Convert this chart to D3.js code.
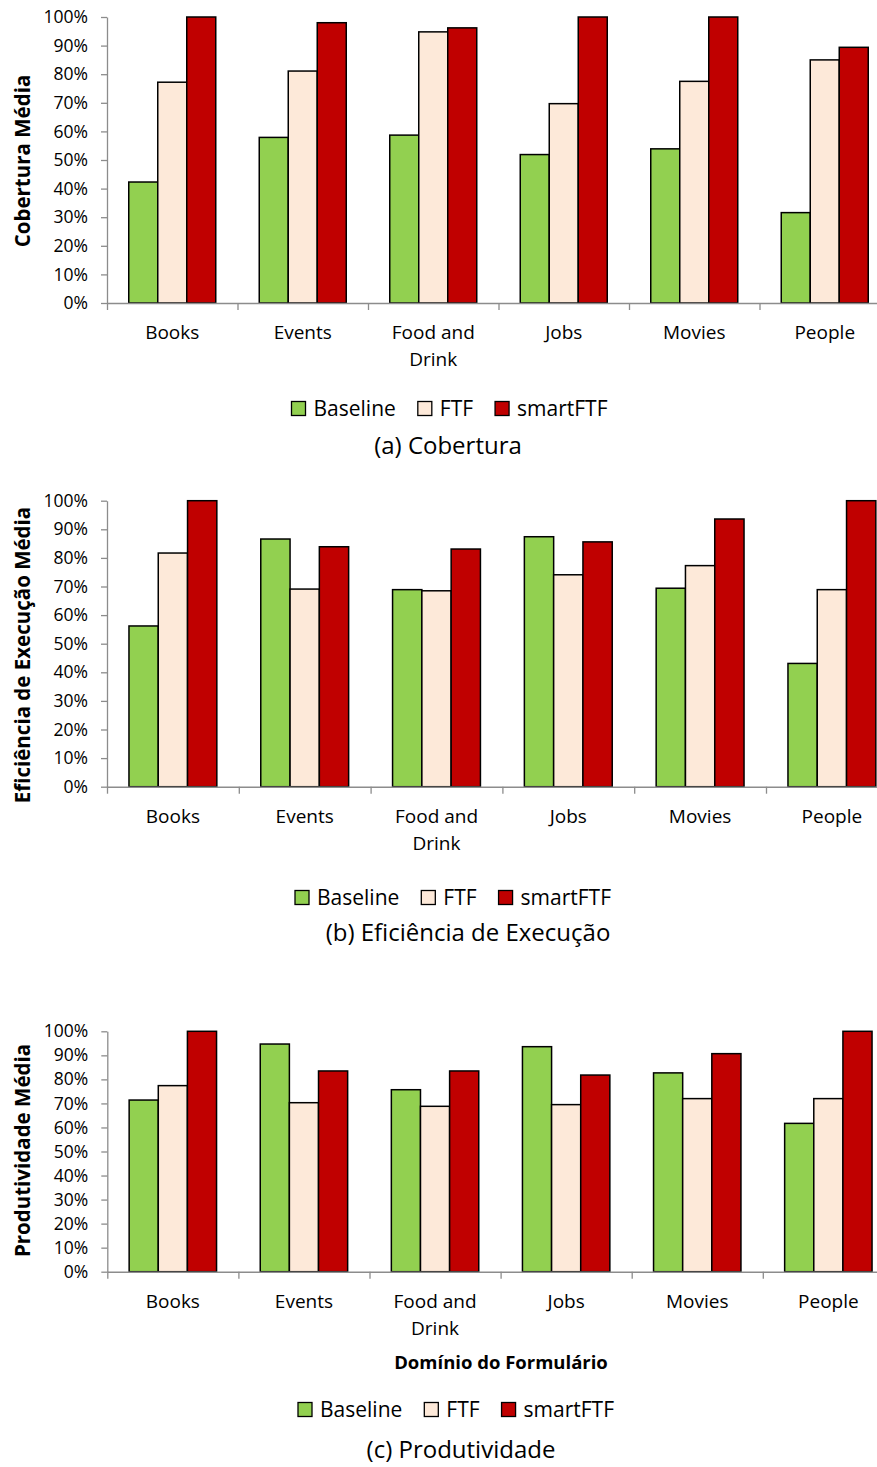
<!DOCTYPE html>
<html>
<head>
<meta charset="utf-8">
<script src="https://cdn.jsdelivr.net/npm/d3@7"></script>
<style>
  html, body { margin: 0; padding: 0; background: #fff; }
  svg { display: block; }
  text { font-family: "Open Sans", "Noto Sans", sans-serif; fill: #000; }
</style>
</head>
<body>
<svg id="chart" width="877" height="1467"></svg>
<script>
// ---------- DATA ----------
const categories = ["Books", "Events", "Food and Drink", "Jobs", "Movies", "People"];
const seriesNames = ["Baseline", "FTF", "smartFTF"];
const yTickValues = [0, 10, 20, 30, 40, 50, 60, 70, 80, 90, 100];

const coberturaBaseline = [42.3, 57.9, 58.7, 51.9, 53.9, 31.6];
const coberturaFTF      = [77.2, 81.1, 94.8, 69.7, 77.5, 85.0];
const coberturaSmart    = [100, 98.0, 96.2, 100, 100, 89.4];

const eficienciaBaseline = [56.2, 86.6, 68.9, 87.4, 69.4, 43.1];
const eficienciaFTF      = [81.7, 69.1, 68.5, 74.1, 77.3, 68.9];
const eficienciaSmart    = [100, 83.9, 83.1, 85.6, 93.6, 100];

const produtividadeBaseline = [71.4, 94.7, 75.7, 93.6, 82.7, 61.7];
const produtividadeFTF      = [77.4, 70.3, 68.8, 69.5, 72.0, 72.0];
const produtividadeSmart    = [100, 83.5, 83.5, 81.8, 90.7, 100];

const yTitles  = ["Cobertura Média", "Eficiência de Execução Média", "Produtividade Média"];
const captions = ["(a) Cobertura", "(b) Eficiência de Execução", "(c) Produtividade"];
const xTitle   = "Domínio do Formulário";

// ---------- STYLE / LAYOUT ----------
const colors = { "Baseline": "#92D050", "FTF": "#FDE9D9", "smartFTF": "#C00000" };
const axisColor = "#8c8c8c";

const panels = [
  { values: [coberturaBaseline, coberturaFTF, coberturaSmart], yTitle: yTitles[0], caption: captions[0],
    top: 17, bottom: 303, left: 107, step: 130.5, yTitleCy: 161,
    legendBase: 416, legendCx: 449.5, captionBase: 454, captionCx: 448, xTitle: null },
  { values: [eficienciaBaseline, eficienciaFTF, eficienciaSmart], yTitle: yTitles[1], caption: captions[1],
    top: 500.7, bottom: 786.7, left: 107, step: 131.8, yTitleCy: 655,
    legendBase: 905, legendCx: 453, captionBase: 941, captionCx: 468, xTitle: null },
  { values: [produtividadeBaseline, produtividadeFTF, produtividadeSmart], yTitle: yTitles[2], caption: captions[2],
    top: 1031.3, bottom: 1271.7, left: 107.3, step: 131.1, yTitleCy: 1150.5,
    legendBase: 1417, legendCx: 456, captionBase: 1458, captionCx: 461, xTitle: xTitle, xTitleBase: 1369, xTitleCx: 501 }
];

const svg = d3.select("#chart");

function wrapLabel(s) {
  const w = s.split(" ");
  if (w.length > 2) return [w.slice(0, 2).join(" "), w.slice(2).join(" ")];
  return [s];
}

panels.forEach(p => {
  const g = svg.append("g");
  const x0 = d3.scaleBand()
    .domain(categories)
    .range([p.left, p.left + p.step * categories.length])
    .paddingInner(1 / 3)
    .paddingOuter(1 / 6);
  const x1 = d3.scaleBand().domain(seriesNames).range([0, x0.bandwidth()]).padding(0);
  const y = d3.scaleLinear().domain([0, 100]).range([p.bottom, p.top]);

  // bars
  const groups = g.append("g").selectAll("g")
    .data(categories)
    .join("g")
    .attr("transform", d => `translate(${x0(d)},0)`);
  groups.selectAll("rect")
    .data((c, ci) => seriesNames.map((s, si) => ({ s, v: p.values[si][ci] })))
    .join("rect")
    .attr("x", d => x1(d.s))
    .attr("width", x1.bandwidth())
    .attr("y", d => y(d.v))
    .attr("height", d => p.bottom - y(d.v))
    .attr("fill", d => colors[d.s])
    .attr("stroke", "#000")
    .attr("stroke-width", 1.5);

  // y axis
  const yAxis = g.append("g")
    .attr("transform", `translate(${p.left},0)`)
    .call(d3.axisLeft(y).tickValues(yTickValues).tickFormat(d => d + "%").tickSize(6).tickSizeOuter(0).tickPadding(13));
  yAxis.select(".domain").attr("stroke", axisColor).attr("stroke-width", 1.3);
  yAxis.selectAll(".tick line").attr("stroke", axisColor).attr("stroke-width", 1.3);
  yAxis.selectAll(".tick text")
    .style("font-family", '"Open Sans", sans-serif')
    .attr("font-size", 17.5)
    .attr("fill", "#000");

  // x axis: boundary ticks
  const bounds = d3.range(categories.length + 1).map(i => p.left + i * p.step);
  const xb = d3.scaleLinear().domain([bounds[0], bounds[bounds.length - 1]]).range([bounds[0], bounds[bounds.length - 1]]);
  const xAxis = g.append("g")
    .attr("transform", `translate(0,${p.bottom})`)
    .call(d3.axisBottom(xb).tickValues(bounds).tickFormat("").tickSize(7).tickSizeOuter(0));
  xAxis.select(".domain").attr("stroke", axisColor).attr("stroke-width", 1.6);
  xAxis.selectAll(".tick line").attr("stroke", axisColor).attr("stroke-width", 1.3);

  // category labels
  const labels = g.append("g").selectAll("text")
    .data(categories)
    .join("text")
    .attr("x", d => x0(d) + x0.bandwidth() / 2)
    .attr("y", p.bottom + 36)
    .attr("text-anchor", "middle")
    .attr("font-size", 19);
  labels.each(function (d) {
    const lines = wrapLabel(d);
    const t = d3.select(this);
    lines.forEach((ln, i) => {
      t.append("tspan")
        .attr("x", x0(d) + x0.bandwidth() / 2)
        .attr("dy", i === 0 ? 0 : 27)
        .text(ln);
    });
  });

  // y title
  g.append("text")
    .attr("transform", `translate(29.5,${p.yTitleCy}) rotate(-90)`)
    .attr("text-anchor", "middle")
    .attr("font-size", 20.5)
    .attr("font-weight", "bold")
    .text(p.yTitle);

  // x title
  if (p.xTitle) {
    g.append("text")
      .attr("x", p.xTitleCx)
      .attr("y", p.xTitleBase)
      .attr("text-anchor", "middle")
      .attr("font-size", 18.5)
      .attr("font-weight", "bold")
      .text(p.xTitle);
  }

  // legend
  const leg = g.append("g");
  const sw = 14, gapT = 8, gapI = 22;
  const items = leg.selectAll("g").data(seriesNames).join("g");
  items.append("rect")
    .attr("width", sw).attr("height", sw)
    .attr("y", p.legendBase - 14.5)
    .attr("fill", d => colors[d])
    .attr("stroke", "#000")
    .attr("stroke-width", 1.3);
  items.append("text")
    .attr("x", sw + gapT)
    .attr("y", p.legendBase)
    .attr("font-size", 21)
    .text(d => d);
  let widths = [];
  items.each(function () { widths.push(sw + gapT + d3.select(this).select("text").node().getComputedTextLength()); });
  const total = d3.sum(widths) + gapI * (widths.length - 1);
  let cx = p.legendCx - total / 2;
  items.each(function (d, i) {
    d3.select(this).attr("transform", `translate(${cx},0)`);
    cx += widths[i] + gapI;
  });

  // caption
  g.append("text")
    .attr("x", p.captionCx)
    .attr("y", p.captionBase)
    .attr("text-anchor", "middle")
    .attr("font-size", 24)
    .text(p.caption);
});
</script>
</body>
</html>
